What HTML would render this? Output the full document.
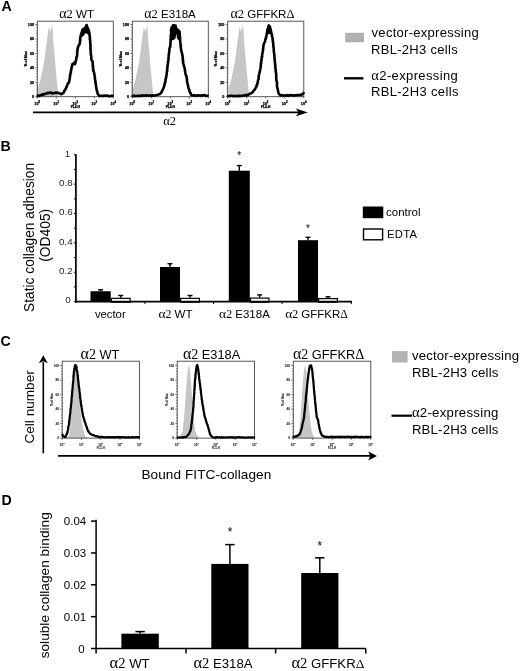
<!DOCTYPE html>
<html><head><meta charset="utf-8"><style>
html,body{margin:0;padding:0;background:#fff;}
svg{display:block;}
</style></head><body>
<div style="will-change:transform;background:#fff;width:520px;height:671px"><svg width="520" height="671" viewBox="0 0 520 671" font-family='"Liberation Sans", sans-serif'>
<rect width="520" height="671" fill="#fff"/>
<text x="1.6" y="11.0" font-size="14.2" text-anchor="start" fill="#000" font-family='"Liberation Sans", sans-serif' font-weight="bold">A</text>
<path d="M38.00,96.70 L38.00,88.00 L40.30,80.00 L42.30,71.00 L44.20,61.00 L45.60,51.00 L46.70,42.00 L47.80,34.00 L48.60,28.00 L49.30,27.50 L50.10,32.00 L51.60,27.50 L52.30,24.80 L52.90,34.30 L53.50,43.80 L54.60,55.70 L55.80,70.00 L57.00,81.90 L57.90,91.40 L58.50,96.70 Z" fill="#c6c6c6" stroke="none"/>
<rect x="37.3" y="21.2" width="76.0" height="75.5" fill="none" stroke="#444" stroke-width="0.9"/>
<path d="M37.60,96.20 L38.56,95.60 L39.09,95.90 L40.00,95.40 L40.78,95.16 L41.73,95.06 L42.19,94.31 L43.17,94.74 L44.00,94.20 L44.78,94.10 L46.10,93.48 L47.00,93.20 L48.20,92.76 L48.79,93.16 L50.00,92.60 L51.02,92.44 L51.95,93.53 L53.00,93.40 L53.96,92.94 L55.00,93.00 L55.77,92.58 L56.80,92.94 L57.58,92.76 L58.60,93.00 L59.38,93.15 L59.98,93.61 L61.00,94.20 L61.83,94.04 L62.46,93.39 L63.40,92.80 L64.02,92.40 L64.24,90.78 L64.88,90.48 L65.20,89.83 L65.70,88.60 L66.14,88.06 L66.46,86.74 L66.94,86.42 L67.18,85.24 L67.50,84.40 L67.92,83.18 L68.53,83.07 L69.10,82.00 L69.28,80.77 L69.50,80.30 L69.55,79.07 L69.87,78.25 L69.90,77.30 L69.99,76.52 L69.95,75.69 L70.39,74.49 L70.48,74.53 L70.42,73.20 L70.92,72.50 L70.85,71.94 L70.85,71.22 L71.10,70.10 L71.48,69.26 L71.42,68.46 L71.64,67.32 L71.56,67.08 L72.10,66.07 L72.24,65.30 L72.30,64.10 L73.06,63.83 L73.80,63.00 L74.37,63.61 L75.00,64.10 L75.37,62.92 L75.26,62.60 L75.59,61.75 L75.73,60.84 L76.06,60.22 L76.20,59.40 L76.33,58.70 L76.38,57.38 L76.69,56.71 L76.93,56.52 L77.09,55.67 L77.10,54.60 L77.34,53.58 L77.09,53.16 L77.15,51.77 L77.34,51.63 L77.60,50.25 L77.44,49.66 L77.73,48.69 L77.71,47.90 L77.90,47.40 L78.21,46.79 L78.55,45.64 L78.90,45.00 L79.80,43.90 L79.83,42.63 L79.82,42.15 L80.22,41.03 L79.99,40.55 L80.34,39.80 L80.06,38.43 L80.46,37.70 L80.53,36.87 L80.54,36.50 L80.60,35.50 L81.11,34.45 L81.21,34.17 L81.50,33.10 L81.87,31.95 L82.13,31.21 L82.46,30.24 L82.70,29.50 L83.90,28.90 L84.26,29.40 L84.80,30.70 L85.22,30.25 L85.46,28.78 L85.75,27.90 L85.80,27.20 L86.16,26.32 L86.60,25.00 L86.78,25.88 L87.40,27.20 L87.53,28.31 L88.27,29.02 L88.40,29.50 L88.50,30.46 L89.11,31.63 L89.15,32.38 L89.40,33.10 L89.41,33.83 L89.64,34.52 L89.50,35.56 L89.79,36.10 L89.80,37.12 L90.05,37.98 L89.74,39.34 L89.96,39.55 L90.25,41.10 L90.20,41.50 L90.11,42.21 L90.44,43.36 L90.26,44.44 L90.46,45.24 L90.63,45.74 L90.56,46.36 L90.35,47.08 L90.41,48.67 L90.63,49.38 L90.57,50.31 L90.58,50.71 L90.76,52.03 L90.93,52.96 L90.80,53.40 L90.91,53.93 L90.76,54.76 L91.22,55.59 L91.29,57.09 L91.28,57.54 L91.26,58.80 L91.40,59.40 L91.68,60.26 L92.10,60.62 L92.60,61.80 L92.70,63.02 L92.73,63.91 L92.95,64.19 L92.67,65.55 L92.78,66.27 L93.21,66.64 L92.99,67.43 L93.15,69.15 L93.10,69.23 L93.44,70.20 L93.40,71.30 L93.88,71.84 L94.21,72.99 L94.21,74.37 L94.60,74.90 L94.69,75.51 L94.87,76.20 L94.68,76.98 L94.91,78.65 L95.08,79.14 L95.00,79.71 L95.51,81.08 L95.23,81.96 L95.55,82.11 L95.60,83.20 L95.75,84.43 L95.94,84.97 L96.02,85.38 L96.02,86.23 L96.17,86.82 L96.38,88.44 L96.60,88.94 L96.62,90.00 L96.80,90.40 L97.00,91.13 L97.51,92.04 L97.54,93.45 L97.90,94.00 L98.52,94.85 L99.10,96.00 L100.04,96.07 L100.68,95.77 L101.61,95.77 L102.70,96.00 L103.31,96.00 L104.36,95.52 L105.23,95.66 L106.06,95.79 L106.70,95.44 L107.50,95.70 L108.16,96.02 L109.05,96.10 L110.27,96.10 L110.82,96.10 L111.76,95.60 L112.60,96.00" fill="none" stroke="#000" stroke-width="2.6" stroke-linejoin="round" stroke-linecap="round"/>
<path d="M80.30,36.00 L80.60,33.00 L82.20,28.00 L84.00,27.50 L86.30,24.50 L88.00,27.00 L89.50,30.50 L90.00,35.00 L88.00,34.50 L86.50,33.50 L85.30,33.30 L84.00,35.50 L82.00,37.00 Z" fill="#000" stroke="none"/>
<line x1="35.3" y1="96.70" x2="37.3" y2="96.70" stroke="#333" stroke-width="0.7"/>
<line x1="36.4" y1="93.82" x2="37.3" y2="93.82" stroke="#333" stroke-width="0.7"/>
<line x1="36.4" y1="90.93" x2="37.3" y2="90.93" stroke="#333" stroke-width="0.7"/>
<line x1="36.4" y1="88.05" x2="37.3" y2="88.05" stroke="#333" stroke-width="0.7"/>
<line x1="36.4" y1="85.16" x2="37.3" y2="85.16" stroke="#333" stroke-width="0.7"/>
<line x1="35.3" y1="82.28" x2="37.3" y2="82.28" stroke="#333" stroke-width="0.7"/>
<line x1="36.4" y1="79.40" x2="37.3" y2="79.40" stroke="#333" stroke-width="0.7"/>
<line x1="36.4" y1="76.51" x2="37.3" y2="76.51" stroke="#333" stroke-width="0.7"/>
<line x1="36.4" y1="73.63" x2="37.3" y2="73.63" stroke="#333" stroke-width="0.7"/>
<line x1="36.4" y1="70.74" x2="37.3" y2="70.74" stroke="#333" stroke-width="0.7"/>
<line x1="35.3" y1="67.86" x2="37.3" y2="67.86" stroke="#333" stroke-width="0.7"/>
<line x1="36.4" y1="64.98" x2="37.3" y2="64.98" stroke="#333" stroke-width="0.7"/>
<line x1="36.4" y1="62.09" x2="37.3" y2="62.09" stroke="#333" stroke-width="0.7"/>
<line x1="36.4" y1="59.21" x2="37.3" y2="59.21" stroke="#333" stroke-width="0.7"/>
<line x1="36.4" y1="56.32" x2="37.3" y2="56.32" stroke="#333" stroke-width="0.7"/>
<line x1="35.3" y1="53.44" x2="37.3" y2="53.44" stroke="#333" stroke-width="0.7"/>
<line x1="36.4" y1="50.56" x2="37.3" y2="50.56" stroke="#333" stroke-width="0.7"/>
<line x1="36.4" y1="47.67" x2="37.3" y2="47.67" stroke="#333" stroke-width="0.7"/>
<line x1="36.4" y1="44.79" x2="37.3" y2="44.79" stroke="#333" stroke-width="0.7"/>
<line x1="36.4" y1="41.90" x2="37.3" y2="41.90" stroke="#333" stroke-width="0.7"/>
<line x1="35.3" y1="39.02" x2="37.3" y2="39.02" stroke="#333" stroke-width="0.7"/>
<line x1="36.4" y1="36.14" x2="37.3" y2="36.14" stroke="#333" stroke-width="0.7"/>
<line x1="36.4" y1="33.25" x2="37.3" y2="33.25" stroke="#333" stroke-width="0.7"/>
<line x1="36.4" y1="30.37" x2="37.3" y2="30.37" stroke="#333" stroke-width="0.7"/>
<line x1="36.4" y1="27.48" x2="37.3" y2="27.48" stroke="#333" stroke-width="0.7"/>
<line x1="35.3" y1="24.60" x2="37.3" y2="24.60" stroke="#333" stroke-width="0.7"/>
<text x="34.0" y="98.10" font-size="3.7" text-anchor="end" fill="#000" font-family='"Liberation Sans", sans-serif' font-weight="bold" stroke="#000" stroke-width="0.25">0</text>
<text x="34.0" y="83.68" font-size="3.7" text-anchor="end" fill="#000" font-family='"Liberation Sans", sans-serif' font-weight="bold" stroke="#000" stroke-width="0.25">20</text>
<text x="34.0" y="69.26" font-size="3.7" text-anchor="end" fill="#000" font-family='"Liberation Sans", sans-serif' font-weight="bold" stroke="#000" stroke-width="0.25">40</text>
<text x="34.0" y="54.84" font-size="3.7" text-anchor="end" fill="#000" font-family='"Liberation Sans", sans-serif' font-weight="bold" stroke="#000" stroke-width="0.25">60</text>
<text x="34.0" y="40.42" font-size="3.7" text-anchor="end" fill="#000" font-family='"Liberation Sans", sans-serif' font-weight="bold" stroke="#000" stroke-width="0.25">80</text>
<text x="34.0" y="26.00" font-size="3.7" text-anchor="end" fill="#000" font-family='"Liberation Sans", sans-serif' font-weight="bold" stroke="#000" stroke-width="0.25">100</text>
<text x="26.699999999999996" y="58.95" font-size="3.50" text-anchor="middle" fill="#000" font-weight="bold" stroke="#000" stroke-width="0.25" font-family='"Liberation Sans", sans-serif' transform="rotate(-90 26.699999999999996 58.95)">% of Max</text>
<line x1="37.30" y1="96.7" x2="37.30" y2="98.5" stroke="#333" stroke-width="0.7"/>
<text x="36.40" y="104.70" font-size="3.7" text-anchor="middle" fill="#000" font-family='"Liberation Sans", sans-serif' font-weight="bold" stroke="#000" stroke-width="0.25">10</text>
<text x="38.40" y="102.80" font-size="2.8" text-anchor="start" fill="#000" font-family='"Liberation Sans", sans-serif' font-weight="bold" stroke="#000" stroke-width="0.25">0</text>
<line x1="56.30" y1="96.7" x2="56.30" y2="98.5" stroke="#333" stroke-width="0.7"/>
<text x="55.40" y="104.70" font-size="3.7" text-anchor="middle" fill="#000" font-family='"Liberation Sans", sans-serif' font-weight="bold" stroke="#000" stroke-width="0.25">10</text>
<text x="57.40" y="102.80" font-size="2.8" text-anchor="start" fill="#000" font-family='"Liberation Sans", sans-serif' font-weight="bold" stroke="#000" stroke-width="0.25">1</text>
<line x1="75.30" y1="96.7" x2="75.30" y2="98.5" stroke="#333" stroke-width="0.7"/>
<text x="74.40" y="104.70" font-size="3.7" text-anchor="middle" fill="#000" font-family='"Liberation Sans", sans-serif' font-weight="bold" stroke="#000" stroke-width="0.25">10</text>
<text x="76.40" y="102.80" font-size="2.8" text-anchor="start" fill="#000" font-family='"Liberation Sans", sans-serif' font-weight="bold" stroke="#000" stroke-width="0.25">2</text>
<line x1="94.30" y1="96.7" x2="94.30" y2="98.5" stroke="#333" stroke-width="0.7"/>
<text x="93.40" y="104.70" font-size="3.7" text-anchor="middle" fill="#000" font-family='"Liberation Sans", sans-serif' font-weight="bold" stroke="#000" stroke-width="0.25">10</text>
<text x="95.40" y="102.80" font-size="2.8" text-anchor="start" fill="#000" font-family='"Liberation Sans", sans-serif' font-weight="bold" stroke="#000" stroke-width="0.25">3</text>
<line x1="113.30" y1="96.7" x2="113.30" y2="98.5" stroke="#333" stroke-width="0.7"/>
<text x="112.40" y="104.70" font-size="3.7" text-anchor="middle" fill="#000" font-family='"Liberation Sans", sans-serif' font-weight="bold" stroke="#000" stroke-width="0.25">10</text>
<text x="114.40" y="102.80" font-size="2.8" text-anchor="start" fill="#000" font-family='"Liberation Sans", sans-serif' font-weight="bold" stroke="#000" stroke-width="0.25">4</text>
<text x="75.30" y="108.00" font-size="3.3" text-anchor="middle" fill="#000" font-family='"Liberation Sans", sans-serif' font-weight="bold" stroke="#000" stroke-width="0.25">FL4-H</text>
<path d="M133.00,96.70 L133.00,88.00 L135.30,80.00 L137.30,71.00 L139.20,61.00 L140.60,51.00 L141.70,42.00 L142.80,34.00 L143.60,28.00 L144.30,27.50 L145.10,32.00 L146.60,27.50 L147.30,24.80 L147.90,34.30 L148.50,43.80 L149.60,55.70 L150.80,70.00 L152.00,81.90 L152.90,91.40 L153.50,96.70 Z" fill="#c6c6c6" stroke="none"/>
<rect x="132.3" y="21.2" width="76.0" height="75.5" fill="none" stroke="#444" stroke-width="0.9"/>
<path d="M132.60,96.00 L133.62,96.10 L134.06,95.56 L135.17,96.10 L135.80,96.06 L136.76,95.98 L137.38,95.94 L138.31,95.78 L139.40,96.02 L140.00,95.80 L140.85,96.10 L141.56,95.68 L142.29,95.28 L143.25,95.64 L144.34,95.53 L145.03,95.62 L145.62,95.33 L146.50,95.38 L147.72,95.51 L148.19,95.62 L149.30,95.79 L150.00,95.40 L150.98,95.61 L151.73,95.64 L152.62,95.27 L153.05,95.82 L154.10,95.63 L154.80,95.40 L155.71,95.17 L156.79,94.99 L157.65,94.80 L158.40,94.60 L159.34,94.07 L159.92,94.16 L160.70,93.40 L161.34,92.71 L161.59,92.10 L161.97,90.90 L162.50,90.40 L162.65,89.78 L163.00,89.17 L163.31,88.37 L163.79,87.61 L164.01,86.40 L164.30,85.60 L164.54,84.94 L164.57,83.83 L165.10,83.21 L164.91,82.51 L165.40,81.89 L165.50,80.80 L165.49,80.38 L165.57,79.44 L165.80,78.57 L166.20,77.40 L166.18,76.50 L166.19,76.39 L166.60,75.02 L166.66,74.42 L166.70,73.70 L166.74,72.44 L166.98,71.72 L167.20,70.80 L167.20,69.91 L167.09,69.07 L167.15,68.94 L167.49,67.54 L167.29,66.88 L167.44,66.58 L167.70,65.30 L167.73,64.00 L168.01,63.63 L167.93,62.29 L168.08,61.33 L168.31,61.10 L168.42,60.34 L168.49,59.41 L168.50,58.20 L168.47,57.38 L168.60,56.74 L168.74,55.44 L168.69,55.34 L168.90,54.28 L168.87,53.41 L169.01,53.01 L169.18,51.90 L169.30,51.00 L169.47,49.71 L169.39,48.96 L169.58,48.01 L169.93,47.21 L170.23,46.72 L170.38,46.25 L170.30,45.00 L170.35,43.87 L170.49,43.00 L170.66,42.45 L170.49,41.64 L170.69,40.49 L170.54,39.23 L170.65,38.71 L170.90,37.90 L170.81,37.26 L170.82,35.86 L170.86,35.14 L171.00,34.56 L171.11,33.53 L171.26,32.60 L171.21,32.44 L171.15,31.12 L170.97,30.41 L171.20,29.50 L171.51,28.66 L171.62,27.68 L172.10,27.20 L172.64,26.57 L173.30,25.40 L174.50,25.40 L175.24,26.02 L175.60,26.60 L175.91,27.67 L176.34,28.97 L176.80,29.50 L177.78,29.67 L178.60,30.70 L179.60,31.90 L179.56,32.38 L179.78,33.89 L179.73,33.98 L179.79,35.18 L179.89,35.84 L179.80,36.56 L180.15,37.67 L180.11,38.24 L180.08,39.18 L180.10,40.30 L180.17,41.09 L180.23,42.30 L180.19,42.62 L180.61,43.47 L180.74,44.86 L180.41,45.80 L180.84,46.66 L180.80,47.40 L180.93,48.40 L181.05,48.87 L181.10,50.07 L181.32,50.62 L181.60,51.81 L181.60,52.20 L182.02,53.39 L182.01,53.62 L182.40,54.60 L182.37,55.42 L182.64,56.19 L182.68,57.47 L182.54,58.21 L183.02,58.62 L182.84,59.26 L182.77,60.02 L183.26,61.60 L182.95,62.20 L183.20,62.90 L183.28,63.62 L183.68,64.85 L183.81,65.54 L184.00,66.50 L184.29,66.95 L184.65,68.50 L184.80,68.90 L184.92,69.34 L184.92,70.69 L185.13,71.66 L185.22,72.28 L185.51,73.35 L185.50,73.70 L185.64,74.57 L185.89,75.25 L186.40,76.10 L186.69,77.03 L186.63,77.50 L186.70,78.61 L187.05,79.66 L186.96,80.50 L187.01,81.57 L187.20,82.00 L187.44,83.08 L187.70,83.95 L187.77,84.32 L187.96,85.34 L188.12,86.72 L188.21,86.70 L188.40,88.00 L188.84,88.99 L189.08,89.74 L189.40,89.97 L189.51,91.41 L189.91,92.36 L190.00,92.80 L190.74,93.24 L191.06,94.64 L191.80,95.20 L192.71,95.54 L193.69,95.17 L194.48,95.25 L195.30,95.70 L195.99,95.61 L196.89,95.69 L197.91,95.33 L198.28,95.18 L199.45,95.52 L200.21,95.64 L200.98,95.45 L201.60,95.28 L202.50,95.40 L203.14,95.45 L204.31,95.12 L205.16,95.26 L205.86,95.86 L206.88,95.81 L207.60,95.70" fill="none" stroke="#000" stroke-width="2.6" stroke-linejoin="round" stroke-linecap="round"/>
<path d="M170.30,40.00 L170.60,28.00 L172.20,24.40 L176.60,24.40 L177.50,29.30 L180.50,31.00 L180.70,40.00 L178.50,40.00 L177.00,38.50 L176.30,33.50 L175.50,38.50 L173.50,40.20 Z" fill="#000" stroke="none"/>
<line x1="130.3" y1="96.70" x2="132.3" y2="96.70" stroke="#333" stroke-width="0.7"/>
<line x1="131.4" y1="93.82" x2="132.3" y2="93.82" stroke="#333" stroke-width="0.7"/>
<line x1="131.4" y1="90.93" x2="132.3" y2="90.93" stroke="#333" stroke-width="0.7"/>
<line x1="131.4" y1="88.05" x2="132.3" y2="88.05" stroke="#333" stroke-width="0.7"/>
<line x1="131.4" y1="85.16" x2="132.3" y2="85.16" stroke="#333" stroke-width="0.7"/>
<line x1="130.3" y1="82.28" x2="132.3" y2="82.28" stroke="#333" stroke-width="0.7"/>
<line x1="131.4" y1="79.40" x2="132.3" y2="79.40" stroke="#333" stroke-width="0.7"/>
<line x1="131.4" y1="76.51" x2="132.3" y2="76.51" stroke="#333" stroke-width="0.7"/>
<line x1="131.4" y1="73.63" x2="132.3" y2="73.63" stroke="#333" stroke-width="0.7"/>
<line x1="131.4" y1="70.74" x2="132.3" y2="70.74" stroke="#333" stroke-width="0.7"/>
<line x1="130.3" y1="67.86" x2="132.3" y2="67.86" stroke="#333" stroke-width="0.7"/>
<line x1="131.4" y1="64.98" x2="132.3" y2="64.98" stroke="#333" stroke-width="0.7"/>
<line x1="131.4" y1="62.09" x2="132.3" y2="62.09" stroke="#333" stroke-width="0.7"/>
<line x1="131.4" y1="59.21" x2="132.3" y2="59.21" stroke="#333" stroke-width="0.7"/>
<line x1="131.4" y1="56.32" x2="132.3" y2="56.32" stroke="#333" stroke-width="0.7"/>
<line x1="130.3" y1="53.44" x2="132.3" y2="53.44" stroke="#333" stroke-width="0.7"/>
<line x1="131.4" y1="50.56" x2="132.3" y2="50.56" stroke="#333" stroke-width="0.7"/>
<line x1="131.4" y1="47.67" x2="132.3" y2="47.67" stroke="#333" stroke-width="0.7"/>
<line x1="131.4" y1="44.79" x2="132.3" y2="44.79" stroke="#333" stroke-width="0.7"/>
<line x1="131.4" y1="41.90" x2="132.3" y2="41.90" stroke="#333" stroke-width="0.7"/>
<line x1="130.3" y1="39.02" x2="132.3" y2="39.02" stroke="#333" stroke-width="0.7"/>
<line x1="131.4" y1="36.14" x2="132.3" y2="36.14" stroke="#333" stroke-width="0.7"/>
<line x1="131.4" y1="33.25" x2="132.3" y2="33.25" stroke="#333" stroke-width="0.7"/>
<line x1="131.4" y1="30.37" x2="132.3" y2="30.37" stroke="#333" stroke-width="0.7"/>
<line x1="131.4" y1="27.48" x2="132.3" y2="27.48" stroke="#333" stroke-width="0.7"/>
<line x1="130.3" y1="24.60" x2="132.3" y2="24.60" stroke="#333" stroke-width="0.7"/>
<text x="129.0" y="98.10" font-size="3.7" text-anchor="end" fill="#000" font-family='"Liberation Sans", sans-serif' font-weight="bold" stroke="#000" stroke-width="0.25">0</text>
<text x="129.0" y="83.68" font-size="3.7" text-anchor="end" fill="#000" font-family='"Liberation Sans", sans-serif' font-weight="bold" stroke="#000" stroke-width="0.25">20</text>
<text x="129.0" y="69.26" font-size="3.7" text-anchor="end" fill="#000" font-family='"Liberation Sans", sans-serif' font-weight="bold" stroke="#000" stroke-width="0.25">40</text>
<text x="129.0" y="54.84" font-size="3.7" text-anchor="end" fill="#000" font-family='"Liberation Sans", sans-serif' font-weight="bold" stroke="#000" stroke-width="0.25">60</text>
<text x="129.0" y="40.42" font-size="3.7" text-anchor="end" fill="#000" font-family='"Liberation Sans", sans-serif' font-weight="bold" stroke="#000" stroke-width="0.25">80</text>
<text x="129.0" y="26.00" font-size="3.7" text-anchor="end" fill="#000" font-family='"Liberation Sans", sans-serif' font-weight="bold" stroke="#000" stroke-width="0.25">100</text>
<text x="121.70000000000002" y="58.95" font-size="3.50" text-anchor="middle" fill="#000" font-weight="bold" stroke="#000" stroke-width="0.25" font-family='"Liberation Sans", sans-serif' transform="rotate(-90 121.70000000000002 58.95)">% of Max</text>
<line x1="132.30" y1="96.7" x2="132.30" y2="98.5" stroke="#333" stroke-width="0.7"/>
<text x="131.40" y="104.70" font-size="3.7" text-anchor="middle" fill="#000" font-family='"Liberation Sans", sans-serif' font-weight="bold" stroke="#000" stroke-width="0.25">10</text>
<text x="133.40" y="102.80" font-size="2.8" text-anchor="start" fill="#000" font-family='"Liberation Sans", sans-serif' font-weight="bold" stroke="#000" stroke-width="0.25">0</text>
<line x1="151.30" y1="96.7" x2="151.30" y2="98.5" stroke="#333" stroke-width="0.7"/>
<text x="150.40" y="104.70" font-size="3.7" text-anchor="middle" fill="#000" font-family='"Liberation Sans", sans-serif' font-weight="bold" stroke="#000" stroke-width="0.25">10</text>
<text x="152.40" y="102.80" font-size="2.8" text-anchor="start" fill="#000" font-family='"Liberation Sans", sans-serif' font-weight="bold" stroke="#000" stroke-width="0.25">1</text>
<line x1="170.30" y1="96.7" x2="170.30" y2="98.5" stroke="#333" stroke-width="0.7"/>
<text x="169.40" y="104.70" font-size="3.7" text-anchor="middle" fill="#000" font-family='"Liberation Sans", sans-serif' font-weight="bold" stroke="#000" stroke-width="0.25">10</text>
<text x="171.40" y="102.80" font-size="2.8" text-anchor="start" fill="#000" font-family='"Liberation Sans", sans-serif' font-weight="bold" stroke="#000" stroke-width="0.25">2</text>
<line x1="189.30" y1="96.7" x2="189.30" y2="98.5" stroke="#333" stroke-width="0.7"/>
<text x="188.40" y="104.70" font-size="3.7" text-anchor="middle" fill="#000" font-family='"Liberation Sans", sans-serif' font-weight="bold" stroke="#000" stroke-width="0.25">10</text>
<text x="190.40" y="102.80" font-size="2.8" text-anchor="start" fill="#000" font-family='"Liberation Sans", sans-serif' font-weight="bold" stroke="#000" stroke-width="0.25">3</text>
<line x1="208.30" y1="96.7" x2="208.30" y2="98.5" stroke="#333" stroke-width="0.7"/>
<text x="207.40" y="104.70" font-size="3.7" text-anchor="middle" fill="#000" font-family='"Liberation Sans", sans-serif' font-weight="bold" stroke="#000" stroke-width="0.25">10</text>
<text x="209.40" y="102.80" font-size="2.8" text-anchor="start" fill="#000" font-family='"Liberation Sans", sans-serif' font-weight="bold" stroke="#000" stroke-width="0.25">4</text>
<text x="170.30" y="108.00" font-size="3.3" text-anchor="middle" fill="#000" font-family='"Liberation Sans", sans-serif' font-weight="bold" stroke="#000" stroke-width="0.25">FL4-H</text>
<path d="M228.80,96.70 L228.80,88.00 L231.10,80.00 L233.10,71.00 L235.00,61.00 L236.40,51.00 L237.50,42.00 L238.60,34.00 L239.40,28.00 L240.10,27.50 L240.90,32.00 L242.40,27.50 L243.10,24.80 L243.70,34.30 L244.30,43.80 L245.40,55.70 L246.60,70.00 L247.80,81.90 L248.70,91.40 L249.30,96.70 Z" fill="#c6c6c6" stroke="none"/>
<rect x="227.7" y="21.2" width="76.10000000000002" height="75.5" fill="none" stroke="#444" stroke-width="0.9"/>
<path d="M228.00,96.20 L228.82,95.94 L229.65,96.03 L230.20,96.10 L231.35,95.66 L231.88,95.85 L232.79,96.10 L233.59,96.10 L234.24,96.10 L235.37,96.08 L236.11,95.95 L236.60,96.06 L237.64,96.10 L238.19,95.67 L239.19,96.10 L240.00,95.80 L241.00,95.93 L241.86,95.86 L242.64,95.51 L243.53,95.48 L243.99,95.81 L245.00,95.40 L245.77,94.87 L246.77,95.42 L247.61,94.91 L248.60,94.60 L249.30,94.16 L250.14,93.57 L251.03,93.33 L251.60,92.80 L252.37,92.36 L252.97,91.92 L253.17,91.15 L253.90,90.40 L254.59,90.00 L254.89,89.32 L255.21,88.43 L255.85,87.82 L256.30,86.80 L256.37,85.81 L257.05,85.52 L257.24,84.03 L257.21,83.52 L257.75,82.61 L257.90,82.00 L257.83,81.51 L257.98,80.44 L258.24,79.71 L258.68,79.02 L258.82,77.85 L258.55,76.85 L258.67,76.28 L258.98,75.09 L259.01,74.63 L259.30,73.70 L259.62,72.49 L259.82,71.93 L259.71,71.66 L259.93,70.46 L260.12,69.83 L260.29,68.95 L260.39,68.50 L260.64,67.24 L260.70,66.50 L260.71,65.43 L260.91,65.27 L260.78,64.05 L261.14,63.10 L261.25,61.92 L261.10,61.64 L261.38,60.80 L261.43,60.02 L261.71,59.22 L261.70,58.20 L261.64,56.97 L262.18,56.76 L262.08,55.58 L262.15,55.08 L262.28,54.08 L262.54,53.28 L262.58,52.42 L262.55,52.05 L262.90,51.00 L263.12,50.17 L263.00,49.05 L263.12,48.61 L263.32,47.17 L263.28,46.74 L263.50,45.51 L263.66,45.09 L263.80,43.90 L264.05,43.42 L264.67,42.15 L265.00,41.50 L265.19,40.99 L265.26,39.54 L265.50,38.96 L266.01,38.35 L265.97,36.93 L266.35,36.63 L266.50,35.50 L266.60,34.92 L266.75,33.45 L266.91,33.19 L267.15,31.93 L267.32,31.14 L267.37,30.74 L267.70,29.50 L268.14,28.23 L268.40,28.20 L268.62,26.98 L268.53,26.60 L268.90,25.40 L269.65,26.52 L270.10,27.20 L270.29,28.13 L270.40,28.58 L270.46,29.30 L270.74,30.41 L270.81,31.40 L271.20,31.90 L271.46,33.12 L271.72,34.00 L271.75,34.83 L272.00,34.89 L271.97,35.89 L272.24,37.19 L272.40,37.90 L272.71,38.69 L272.55,39.73 L272.89,40.27 L272.96,41.33 L272.81,42.08 L273.20,43.11 L273.29,43.65 L273.41,45.19 L273.16,45.96 L273.65,46.65 L273.60,47.40 L273.57,47.83 L273.77,48.85 L273.82,49.82 L273.68,50.97 L273.82,51.15 L273.87,52.05 L274.30,53.64 L274.22,53.67 L274.21,54.71 L274.44,55.57 L274.38,56.62 L274.45,57.09 L274.60,58.20 L274.70,58.73 L274.69,60.12 L274.67,60.41 L274.94,61.54 L274.91,62.77 L275.09,63.65 L275.05,64.18 L275.27,65.11 L275.34,65.90 L275.21,66.80 L275.40,67.70 L275.56,68.53 L275.52,68.91 L275.80,70.03 L275.64,71.29 L275.91,72.06 L275.83,72.29 L276.07,72.96 L276.17,74.25 L276.15,75.16 L276.18,75.91 L276.26,76.14 L276.30,77.30 L276.22,77.72 L276.26,79.27 L276.37,79.52 L276.48,81.10 L276.86,81.19 L276.95,82.14 L277.02,83.50 L276.99,84.62 L276.83,85.34 L277.12,86.18 L277.20,86.80 L277.19,87.85 L277.74,88.74 L277.64,88.98 L278.03,90.29 L277.91,90.85 L278.28,91.72 L278.40,92.80 L278.95,93.89 L279.55,94.41 L280.20,95.40 L281.00,95.27 L281.87,95.02 L282.66,95.83 L283.38,95.62 L284.48,95.57 L285.21,95.56 L286.10,95.39 L286.71,95.76 L287.81,95.04 L288.54,95.77 L289.47,95.35 L290.10,95.12 L291.07,95.13 L291.75,95.23 L292.70,95.40 L293.74,95.55 L294.47,95.18 L295.38,95.26 L295.96,95.40 L296.69,95.05 L297.69,95.26 L298.52,94.97 L299.54,95.08 L300.48,94.90 L301.10,95.20 L301.74,94.63 L302.45,94.07 L302.93,93.84 L303.50,93.00" fill="none" stroke="#000" stroke-width="2.6" stroke-linejoin="round" stroke-linecap="round"/>
<path d="M266.00,31.00 L267.30,26.50 L268.30,24.50 L270.00,26.00 L271.50,29.00 L272.20,32.00 L270.50,34.00 L268.50,34.30 L267.00,33.00 Z" fill="#000" stroke="none"/>
<line x1="225.7" y1="96.70" x2="227.7" y2="96.70" stroke="#333" stroke-width="0.7"/>
<line x1="226.79999999999998" y1="93.82" x2="227.7" y2="93.82" stroke="#333" stroke-width="0.7"/>
<line x1="226.79999999999998" y1="90.93" x2="227.7" y2="90.93" stroke="#333" stroke-width="0.7"/>
<line x1="226.79999999999998" y1="88.05" x2="227.7" y2="88.05" stroke="#333" stroke-width="0.7"/>
<line x1="226.79999999999998" y1="85.16" x2="227.7" y2="85.16" stroke="#333" stroke-width="0.7"/>
<line x1="225.7" y1="82.28" x2="227.7" y2="82.28" stroke="#333" stroke-width="0.7"/>
<line x1="226.79999999999998" y1="79.40" x2="227.7" y2="79.40" stroke="#333" stroke-width="0.7"/>
<line x1="226.79999999999998" y1="76.51" x2="227.7" y2="76.51" stroke="#333" stroke-width="0.7"/>
<line x1="226.79999999999998" y1="73.63" x2="227.7" y2="73.63" stroke="#333" stroke-width="0.7"/>
<line x1="226.79999999999998" y1="70.74" x2="227.7" y2="70.74" stroke="#333" stroke-width="0.7"/>
<line x1="225.7" y1="67.86" x2="227.7" y2="67.86" stroke="#333" stroke-width="0.7"/>
<line x1="226.79999999999998" y1="64.98" x2="227.7" y2="64.98" stroke="#333" stroke-width="0.7"/>
<line x1="226.79999999999998" y1="62.09" x2="227.7" y2="62.09" stroke="#333" stroke-width="0.7"/>
<line x1="226.79999999999998" y1="59.21" x2="227.7" y2="59.21" stroke="#333" stroke-width="0.7"/>
<line x1="226.79999999999998" y1="56.32" x2="227.7" y2="56.32" stroke="#333" stroke-width="0.7"/>
<line x1="225.7" y1="53.44" x2="227.7" y2="53.44" stroke="#333" stroke-width="0.7"/>
<line x1="226.79999999999998" y1="50.56" x2="227.7" y2="50.56" stroke="#333" stroke-width="0.7"/>
<line x1="226.79999999999998" y1="47.67" x2="227.7" y2="47.67" stroke="#333" stroke-width="0.7"/>
<line x1="226.79999999999998" y1="44.79" x2="227.7" y2="44.79" stroke="#333" stroke-width="0.7"/>
<line x1="226.79999999999998" y1="41.90" x2="227.7" y2="41.90" stroke="#333" stroke-width="0.7"/>
<line x1="225.7" y1="39.02" x2="227.7" y2="39.02" stroke="#333" stroke-width="0.7"/>
<line x1="226.79999999999998" y1="36.14" x2="227.7" y2="36.14" stroke="#333" stroke-width="0.7"/>
<line x1="226.79999999999998" y1="33.25" x2="227.7" y2="33.25" stroke="#333" stroke-width="0.7"/>
<line x1="226.79999999999998" y1="30.37" x2="227.7" y2="30.37" stroke="#333" stroke-width="0.7"/>
<line x1="226.79999999999998" y1="27.48" x2="227.7" y2="27.48" stroke="#333" stroke-width="0.7"/>
<line x1="225.7" y1="24.60" x2="227.7" y2="24.60" stroke="#333" stroke-width="0.7"/>
<text x="224.39999999999998" y="98.10" font-size="3.7" text-anchor="end" fill="#000" font-family='"Liberation Sans", sans-serif' font-weight="bold" stroke="#000" stroke-width="0.25">0</text>
<text x="224.39999999999998" y="83.68" font-size="3.7" text-anchor="end" fill="#000" font-family='"Liberation Sans", sans-serif' font-weight="bold" stroke="#000" stroke-width="0.25">20</text>
<text x="224.39999999999998" y="69.26" font-size="3.7" text-anchor="end" fill="#000" font-family='"Liberation Sans", sans-serif' font-weight="bold" stroke="#000" stroke-width="0.25">40</text>
<text x="224.39999999999998" y="54.84" font-size="3.7" text-anchor="end" fill="#000" font-family='"Liberation Sans", sans-serif' font-weight="bold" stroke="#000" stroke-width="0.25">60</text>
<text x="224.39999999999998" y="40.42" font-size="3.7" text-anchor="end" fill="#000" font-family='"Liberation Sans", sans-serif' font-weight="bold" stroke="#000" stroke-width="0.25">80</text>
<text x="224.39999999999998" y="26.00" font-size="3.7" text-anchor="end" fill="#000" font-family='"Liberation Sans", sans-serif' font-weight="bold" stroke="#000" stroke-width="0.25">100</text>
<text x="217.1" y="58.95" font-size="3.50" text-anchor="middle" fill="#000" font-weight="bold" stroke="#000" stroke-width="0.25" font-family='"Liberation Sans", sans-serif' transform="rotate(-90 217.1 58.95)">% of Max</text>
<line x1="227.70" y1="96.7" x2="227.70" y2="98.5" stroke="#333" stroke-width="0.7"/>
<text x="226.80" y="104.70" font-size="3.7" text-anchor="middle" fill="#000" font-family='"Liberation Sans", sans-serif' font-weight="bold" stroke="#000" stroke-width="0.25">10</text>
<text x="228.80" y="102.80" font-size="2.8" text-anchor="start" fill="#000" font-family='"Liberation Sans", sans-serif' font-weight="bold" stroke="#000" stroke-width="0.25">0</text>
<line x1="246.72" y1="96.7" x2="246.72" y2="98.5" stroke="#333" stroke-width="0.7"/>
<text x="245.82" y="104.70" font-size="3.7" text-anchor="middle" fill="#000" font-family='"Liberation Sans", sans-serif' font-weight="bold" stroke="#000" stroke-width="0.25">10</text>
<text x="247.82" y="102.80" font-size="2.8" text-anchor="start" fill="#000" font-family='"Liberation Sans", sans-serif' font-weight="bold" stroke="#000" stroke-width="0.25">1</text>
<line x1="265.75" y1="96.7" x2="265.75" y2="98.5" stroke="#333" stroke-width="0.7"/>
<text x="264.85" y="104.70" font-size="3.7" text-anchor="middle" fill="#000" font-family='"Liberation Sans", sans-serif' font-weight="bold" stroke="#000" stroke-width="0.25">10</text>
<text x="266.85" y="102.80" font-size="2.8" text-anchor="start" fill="#000" font-family='"Liberation Sans", sans-serif' font-weight="bold" stroke="#000" stroke-width="0.25">2</text>
<line x1="284.77" y1="96.7" x2="284.77" y2="98.5" stroke="#333" stroke-width="0.7"/>
<text x="283.88" y="104.70" font-size="3.7" text-anchor="middle" fill="#000" font-family='"Liberation Sans", sans-serif' font-weight="bold" stroke="#000" stroke-width="0.25">10</text>
<text x="285.88" y="102.80" font-size="2.8" text-anchor="start" fill="#000" font-family='"Liberation Sans", sans-serif' font-weight="bold" stroke="#000" stroke-width="0.25">3</text>
<line x1="303.80" y1="96.7" x2="303.80" y2="98.5" stroke="#333" stroke-width="0.7"/>
<text x="302.90" y="104.70" font-size="3.7" text-anchor="middle" fill="#000" font-family='"Liberation Sans", sans-serif' font-weight="bold" stroke="#000" stroke-width="0.25">10</text>
<text x="304.90" y="102.80" font-size="2.8" text-anchor="start" fill="#000" font-family='"Liberation Sans", sans-serif' font-weight="bold" stroke="#000" stroke-width="0.25">4</text>
<text x="265.75" y="108.00" font-size="3.3" text-anchor="middle" fill="#000" font-family='"Liberation Sans", sans-serif' font-weight="bold" stroke="#000" stroke-width="0.25">FL4-H</text>
<text x="59.2" y="18.1" fill="#000" font-family='"Liberation Sans", sans-serif' ><tspan font-family='"Liberation Serif", serif' font-size="14">&#945;</tspan><tspan font-family='"Liberation Serif", serif' font-size="12.5">2</tspan><tspan font-size="11.6"> WT</tspan></text>
<text x="144.2" y="18.1" fill="#000" font-family='"Liberation Sans", sans-serif' ><tspan font-family='"Liberation Serif", serif' font-size="14">&#945;</tspan><tspan font-family='"Liberation Serif", serif' font-size="12.5">2</tspan><tspan font-size="11.6"> E318A</tspan></text>
<text x="230.4" y="18.1" fill="#000" font-family='"Liberation Sans", sans-serif' ><tspan font-family='"Liberation Serif", serif' font-size="14">&#945;</tspan><tspan font-family='"Liberation Serif", serif' font-size="12.5">2</tspan><tspan font-size="11.6"> GFFKR</tspan><tspan font-family='"Liberation Serif", serif' font-size="12.5">&#916;</tspan></text>
<line x1="33" y1="112.4" x2="300" y2="112.4" stroke="#000" stroke-width="1.8"/>
<path d="M307.8,112.4 L295.8,108.6 L298.8,112.4 L295.8,116.2 Z" fill="#000"/>
<text x="169.6" y="124.8" font-size="12.5" text-anchor="middle" fill="#000" font-family='"Liberation Serif", serif' >&#945;2</text>
<rect x="345.2" y="32.8" width="18.8" height="9.5" fill="#b0b0b0"/>
<text x="371.6" y="37.0" font-size="13" text-anchor="start" fill="#000" font-family='"Liberation Sans", sans-serif' letter-spacing="0.28">vector-expressing</text>
<text x="371.0" y="53.9" font-size="13" text-anchor="start" fill="#000" font-family='"Liberation Sans", sans-serif' letter-spacing="0.3">RBL-2H3 cells</text>
<line x1="344" y1="78.3" x2="363.4" y2="78.3" stroke="#000" stroke-width="2.4"/>
<text x="371.3" y="80.3" fill="#000" font-family='"Liberation Sans", sans-serif' letter-spacing="0.37"><tspan font-family='"Liberation Serif", serif' font-size="14.5">&#945;</tspan><tspan font-family='"Liberation Sans", sans-serif' font-size="13">2</tspan><tspan font-size="13">-expressing</tspan></text>
<text x="371.0" y="96.2" font-size="13" text-anchor="start" fill="#000" font-family='"Liberation Sans", sans-serif' letter-spacing="0.36">RBL-2H3 cells</text>
<text x="0.4" y="151.4" font-size="14.2" text-anchor="start" fill="#000" font-family='"Liberation Sans", sans-serif' font-weight="bold">B</text>
<line x1="100.625" y1="291.25" x2="100.625" y2="289.8" stroke="#000" stroke-width="1.4"/>
<line x1="98.125" y1="289.8" x2="103.125" y2="289.8" stroke="#000" stroke-width="1.4"/>
<rect x="90.5" y="291.25" width="20.25" height="10.350000000000023" fill="#000"/>
<line x1="120.75" y1="297.75" x2="120.75" y2="295.5" stroke="#000" stroke-width="1.4"/>
<line x1="118.25" y1="295.5" x2="123.25" y2="295.5" stroke="#000" stroke-width="1.4"/>
<rect x="111.35" y="298.35" width="18.8" height="3.8500000000000227" fill="#fff" stroke="#000" stroke-width="1.2"/>
<line x1="170.0" y1="267" x2="170.0" y2="263.75" stroke="#000" stroke-width="1.4"/>
<line x1="167.5" y1="263.75" x2="172.5" y2="263.75" stroke="#000" stroke-width="1.4"/>
<rect x="160" y="267" width="20" height="34.60000000000002" fill="#000"/>
<line x1="190.0" y1="297.75" x2="190.0" y2="295.5" stroke="#000" stroke-width="1.4"/>
<line x1="187.5" y1="295.5" x2="192.5" y2="295.5" stroke="#000" stroke-width="1.4"/>
<rect x="180.6" y="298.35" width="18.8" height="3.8500000000000227" fill="#fff" stroke="#000" stroke-width="1.2"/>
<line x1="239.3" y1="170.7" x2="239.3" y2="165.6" stroke="#000" stroke-width="1.4"/>
<line x1="236.8" y1="165.6" x2="241.8" y2="165.6" stroke="#000" stroke-width="1.4"/>
<rect x="228.8" y="170.7" width="21.0" height="130.90000000000003" fill="#000"/>
<line x1="259.65" y1="297.5" x2="259.65" y2="294.9" stroke="#000" stroke-width="1.4"/>
<line x1="257.15" y1="294.9" x2="262.15" y2="294.9" stroke="#000" stroke-width="1.4"/>
<rect x="250.4" y="298.1" width="18.49999999999999" height="4.100000000000023" fill="#fff" stroke="#000" stroke-width="1.2"/>
<line x1="308.0" y1="240.2" x2="308.0" y2="237.3" stroke="#000" stroke-width="1.4"/>
<line x1="305.5" y1="237.3" x2="310.5" y2="237.3" stroke="#000" stroke-width="1.4"/>
<rect x="298" y="240.2" width="20" height="61.400000000000034" fill="#000"/>
<line x1="328.0" y1="298" x2="328.0" y2="296.8" stroke="#000" stroke-width="1.4"/>
<line x1="325.5" y1="296.8" x2="330.5" y2="296.8" stroke="#000" stroke-width="1.4"/>
<rect x="318.6" y="298.6" width="18.8" height="3.6000000000000227" fill="#fff" stroke="#000" stroke-width="1.2"/>
<line x1="75.9" y1="154.3" x2="75.9" y2="302.8" stroke="#000" stroke-width="1.7"/>
<line x1="75.10000000000001" y1="301.6" x2="352" y2="301.6" stroke="#000" stroke-width="1.8"/>
<line x1="73.9" y1="301.60" x2="75.9" y2="301.60" stroke="#000" stroke-width="1"/>
<line x1="73.9" y1="286.92" x2="75.9" y2="286.92" stroke="#000" stroke-width="1"/>
<line x1="73.9" y1="272.24" x2="75.9" y2="272.24" stroke="#000" stroke-width="1"/>
<line x1="73.9" y1="257.56" x2="75.9" y2="257.56" stroke="#000" stroke-width="1"/>
<line x1="73.9" y1="242.88" x2="75.9" y2="242.88" stroke="#000" stroke-width="1"/>
<line x1="73.9" y1="228.20" x2="75.9" y2="228.20" stroke="#000" stroke-width="1"/>
<line x1="73.9" y1="213.52" x2="75.9" y2="213.52" stroke="#000" stroke-width="1"/>
<line x1="73.9" y1="198.84" x2="75.9" y2="198.84" stroke="#000" stroke-width="1"/>
<line x1="73.9" y1="184.16" x2="75.9" y2="184.16" stroke="#000" stroke-width="1"/>
<line x1="73.9" y1="169.48" x2="75.9" y2="169.48" stroke="#000" stroke-width="1"/>
<line x1="73.9" y1="154.80" x2="75.9" y2="154.80" stroke="#000" stroke-width="1"/>
<line x1="145" y1="301.6" x2="145" y2="304.1" stroke="#000" stroke-width="1"/>
<line x1="213.5" y1="301.6" x2="213.5" y2="304.1" stroke="#000" stroke-width="1"/>
<line x1="282" y1="301.6" x2="282" y2="304.1" stroke="#000" stroke-width="1"/>
<line x1="351.3" y1="301.6" x2="351.3" y2="304.1" stroke="#000" stroke-width="1"/>
<text x="70.3" y="156.60" font-size="9.8" text-anchor="end" fill="#222" font-family='"Liberation Sans", sans-serif' >1</text>
<text x="72.6" y="185.96" font-size="9.8" text-anchor="end" fill="#222" font-family='"Liberation Sans", sans-serif' >0.8</text>
<text x="72.6" y="215.32" font-size="9.8" text-anchor="end" fill="#222" font-family='"Liberation Sans", sans-serif' >0.6</text>
<text x="72.6" y="244.68" font-size="9.8" text-anchor="end" fill="#222" font-family='"Liberation Sans", sans-serif' >0.4</text>
<text x="72.6" y="274.04" font-size="9.8" text-anchor="end" fill="#222" font-family='"Liberation Sans", sans-serif' >0.2</text>
<text x="70.8" y="303.40" font-size="9.8" text-anchor="end" fill="#222" font-family='"Liberation Sans", sans-serif' >0</text>
<text x="239.3" y="159" font-size="10" text-anchor="middle" fill="#000" font-family='"Liberation Sans", sans-serif' >*</text>
<text x="308" y="231.5" font-size="10" text-anchor="middle" fill="#000" font-family='"Liberation Sans", sans-serif' >*</text>
<text x="33.8" y="237.4" font-size="13.75" text-anchor="middle" font-family='"Liberation Sans", sans-serif' transform="rotate(-90 33.8 237.4)">Static collagen adhesion</text>
<text x="50.1" y="235.3" font-size="13.8" text-anchor="middle" font-family='"Liberation Sans", sans-serif' transform="rotate(-90 50.1 235.3)">(OD405)</text>
<text x="110.3" y="318.2" font-size="11.3" text-anchor="middle" fill="#000" font-family='"Liberation Sans", sans-serif' >vector</text>
<text x="158.4" y="318.3" fill="#000" font-family='"Liberation Sans", sans-serif' ><tspan font-family='"Liberation Serif", serif' font-size="13.5">&#945;</tspan><tspan font-family='"Liberation Serif", serif' font-size="11.8">2</tspan><tspan font-size="11.5"> WT</tspan></text>
<text x="219.1" y="318.3" fill="#000" font-family='"Liberation Sans", sans-serif' ><tspan font-family='"Liberation Serif", serif' font-size="13.5">&#945;</tspan><tspan font-family='"Liberation Serif", serif' font-size="11.8">2</tspan><tspan font-size="11.5"> E318A</tspan></text>
<text x="285.2" y="318.3" fill="#000" font-family='"Liberation Sans", sans-serif' ><tspan font-family='"Liberation Serif", serif' font-size="13.5">&#945;</tspan><tspan font-family='"Liberation Serif", serif' font-size="11.8">2</tspan><tspan font-size="11.5"> GFFKR</tspan><tspan font-family='"Liberation Serif", serif' font-size="11.8">&#916;</tspan></text>
<rect x="362.8" y="206.5" width="20.5" height="11.7" fill="#000"/>
<rect x="363.5" y="229" width="19.1" height="10.8" fill="#fff" stroke="#000" stroke-width="1.4"/>
<text x="386" y="215.6" font-size="11.5" text-anchor="start" fill="#000" font-family='"Liberation Sans", sans-serif' >control</text>
<text x="387" y="237.8" font-size="11.2" text-anchor="start" fill="#000" font-family='"Liberation Sans", sans-serif' letter-spacing="0.3">EDTA</text>
<text x="0.5" y="346.2" font-size="14.2" text-anchor="start" fill="#000" font-family='"Liberation Sans", sans-serif' font-weight="bold">C</text>
<path d="M62.80,437.90 L66.00,437.50 L68.90,436.30 L70.10,426.80 L71.30,411.30 L72.50,395.80 L73.40,381.50 L74.30,370.70 L75.30,367.80 L76.10,369.50 L77.30,377.90 L78.50,389.80 L79.70,404.10 L81.20,417.30 L82.70,426.80 L83.90,432.80 L85.60,436.30 L87.40,437.50 L88.00,437.90 Z" fill="#c6c6c6" stroke="none"/>
<rect x="62.2" y="361.2" width="77.2" height="76.90000000000003" fill="none" stroke="#444" stroke-width="0.9"/>
<path d="M62.60,434.60 L62.78,435.49 L63.00,436.30 L63.75,436.55 L64.76,436.89 L65.50,436.90 L65.76,436.17 L66.17,435.27 L66.72,434.29 L66.80,433.92 L67.30,432.80 L67.48,432.22 L67.54,431.13 L67.74,430.50 L67.95,429.71 L68.13,428.58 L68.34,428.29 L68.21,427.27 L68.39,426.10 L68.59,425.86 L68.92,424.72 L68.96,423.89 L69.10,423.20 L69.07,422.30 L69.40,421.52 L69.32,420.40 L69.36,419.69 L69.70,418.88 L69.71,418.11 L69.69,417.37 L69.86,416.33 L69.88,415.49 L69.98,414.73 L70.20,413.70 L70.38,412.65 L70.35,412.27 L70.38,411.10 L70.58,410.16 L70.51,409.26 L70.61,408.57 L70.90,407.84 L70.88,407.07 L70.95,405.96 L71.12,404.90 L71.09,404.25 L71.21,403.25 L71.28,402.70 L71.40,401.80 L71.52,401.22 L71.54,400.04 L71.61,399.65 L71.54,398.66 L71.72,397.79 L71.78,396.94 L71.88,396.25 L71.83,395.39 L72.14,394.56 L71.93,393.75 L72.14,392.70 L72.08,391.93 L72.25,391.17 L72.33,390.90 L72.38,389.78 L72.45,389.00 L72.65,388.34 L72.60,387.40 L72.65,386.67 L72.87,385.79 L72.74,384.64 L72.94,384.07 L72.98,383.24 L73.02,382.50 L73.24,381.63 L73.28,380.56 L73.36,379.88 L73.44,378.63 L73.52,378.21 L73.39,377.49 L73.42,376.45 L73.60,375.50 L73.83,374.67 L73.75,373.54 L73.81,372.59 L73.88,371.77 L74.22,371.36 L74.27,370.15 L74.31,369.40 L74.40,368.40 L74.67,367.45 L74.78,366.63 L75.11,365.62 L75.30,364.80 L75.81,365.78 L76.50,366.60 L76.61,367.57 L76.50,368.40 L76.75,369.50 L76.88,369.89 L76.97,370.78 L77.30,371.90 L77.37,372.55 L77.51,373.66 L77.61,374.17 L77.64,375.10 L77.70,375.76 L77.87,376.60 L77.87,377.49 L77.96,378.29 L78.12,379.21 L78.10,380.08 L78.36,380.88 L78.30,381.50 L78.48,382.66 L78.62,382.97 L78.48,384.29 L78.68,384.85 L78.88,385.96 L78.86,386.55 L78.94,387.35 L79.30,388.58 L79.36,389.10 L79.30,390.41 L79.50,391.00 L79.57,391.88 L79.79,392.96 L79.68,393.23 L79.88,394.57 L80.04,395.21 L80.18,396.20 L79.99,396.78 L80.09,397.84 L80.42,398.60 L80.40,399.40 L80.55,400.17 L80.54,400.86 L80.87,401.95 L80.74,403.02 L81.00,403.80 L81.09,404.29 L81.19,405.26 L81.47,405.83 L81.51,406.99 L81.60,407.70 L81.88,408.63 L81.96,409.11 L81.95,410.29 L82.12,410.94 L82.25,411.52 L82.53,412.29 L82.57,413.11 L82.81,414.14 L82.80,414.90 L82.99,415.86 L83.13,416.39 L83.44,416.98 L83.60,418.30 L84.01,418.62 L84.20,419.60 L84.36,420.32 L84.56,421.47 L84.93,422.06 L85.11,422.71 L85.42,423.40 L85.70,424.40 L85.99,425.41 L86.41,426.28 L86.71,426.78 L86.88,427.88 L87.32,428.69 L87.38,429.48 L87.80,430.40 L88.17,431.40 L88.83,431.60 L89.18,432.45 L89.84,433.37 L90.20,434.00 L91.20,434.25 L91.99,434.75 L92.69,435.04 L93.77,435.15 L94.60,435.70 L95.28,436.02 L96.19,436.18 L96.97,436.35 L97.76,436.33 L98.51,436.98 L99.40,436.90 L100.25,437.17 L101.18,436.76 L102.03,436.78 L102.90,437.03 L103.57,437.32 L104.60,437.32 L105.30,437.30 L106.01,437.10 L107.00,437.17 L107.63,437.15 L108.53,437.37 L109.33,437.25 L109.97,437.02 L110.78,437.02 L111.86,437.46 L112.49,437.07 L113.30,437.01 L114.16,437.40 L114.94,437.50 L115.69,437.03 L116.48,437.28 L117.37,437.02 L118.20,437.29 L118.81,437.22 L119.65,437.16 L120.44,437.28 L121.36,437.05 L122.03,437.08 L123.01,437.07 L123.85,437.48 L124.60,437.35 L125.34,437.45 L126.23,437.31 L127.00,437.38 L127.78,437.39 L128.51,437.13 L129.35,437.41 L130.14,437.50 L130.86,437.40 L131.88,437.18 L132.62,437.11 L133.42,437.02 L134.31,437.27 L135.07,437.50 L135.84,437.20 L136.59,437.09 L137.39,437.23 L138.11,437.16 L139.00,437.30" fill="none" stroke="#000" stroke-width="2.25" stroke-linejoin="round" stroke-linecap="round"/>
<line x1="60.2" y1="438.10" x2="62.2" y2="438.10" stroke="#333" stroke-width="0.7"/>
<line x1="61.300000000000004" y1="435.20" x2="62.2" y2="435.20" stroke="#333" stroke-width="0.7"/>
<line x1="61.300000000000004" y1="432.30" x2="62.2" y2="432.30" stroke="#333" stroke-width="0.7"/>
<line x1="61.300000000000004" y1="429.40" x2="62.2" y2="429.40" stroke="#333" stroke-width="0.7"/>
<line x1="61.300000000000004" y1="426.50" x2="62.2" y2="426.50" stroke="#333" stroke-width="0.7"/>
<line x1="60.2" y1="423.60" x2="62.2" y2="423.60" stroke="#333" stroke-width="0.7"/>
<line x1="61.300000000000004" y1="420.70" x2="62.2" y2="420.70" stroke="#333" stroke-width="0.7"/>
<line x1="61.300000000000004" y1="417.80" x2="62.2" y2="417.80" stroke="#333" stroke-width="0.7"/>
<line x1="61.300000000000004" y1="414.90" x2="62.2" y2="414.90" stroke="#333" stroke-width="0.7"/>
<line x1="61.300000000000004" y1="412.00" x2="62.2" y2="412.00" stroke="#333" stroke-width="0.7"/>
<line x1="60.2" y1="409.10" x2="62.2" y2="409.10" stroke="#333" stroke-width="0.7"/>
<line x1="61.300000000000004" y1="406.20" x2="62.2" y2="406.20" stroke="#333" stroke-width="0.7"/>
<line x1="61.300000000000004" y1="403.30" x2="62.2" y2="403.30" stroke="#333" stroke-width="0.7"/>
<line x1="61.300000000000004" y1="400.40" x2="62.2" y2="400.40" stroke="#333" stroke-width="0.7"/>
<line x1="61.300000000000004" y1="397.50" x2="62.2" y2="397.50" stroke="#333" stroke-width="0.7"/>
<line x1="60.2" y1="394.60" x2="62.2" y2="394.60" stroke="#333" stroke-width="0.7"/>
<line x1="61.300000000000004" y1="391.70" x2="62.2" y2="391.70" stroke="#333" stroke-width="0.7"/>
<line x1="61.300000000000004" y1="388.80" x2="62.2" y2="388.80" stroke="#333" stroke-width="0.7"/>
<line x1="61.300000000000004" y1="385.90" x2="62.2" y2="385.90" stroke="#333" stroke-width="0.7"/>
<line x1="61.300000000000004" y1="383.00" x2="62.2" y2="383.00" stroke="#333" stroke-width="0.7"/>
<line x1="60.2" y1="380.10" x2="62.2" y2="380.10" stroke="#333" stroke-width="0.7"/>
<line x1="61.300000000000004" y1="377.20" x2="62.2" y2="377.20" stroke="#333" stroke-width="0.7"/>
<line x1="61.300000000000004" y1="374.30" x2="62.2" y2="374.30" stroke="#333" stroke-width="0.7"/>
<line x1="61.300000000000004" y1="371.40" x2="62.2" y2="371.40" stroke="#333" stroke-width="0.7"/>
<line x1="61.300000000000004" y1="368.50" x2="62.2" y2="368.50" stroke="#333" stroke-width="0.7"/>
<line x1="60.2" y1="365.60" x2="62.2" y2="365.60" stroke="#333" stroke-width="0.7"/>
<text x="58.900000000000006" y="439.29" font-size="3.145" text-anchor="end" fill="#333" font-family='"Liberation Sans", sans-serif' font-weight="bold" stroke="#333" stroke-width="0.12">0</text>
<text x="58.900000000000006" y="424.79" font-size="3.145" text-anchor="end" fill="#333" font-family='"Liberation Sans", sans-serif' font-weight="bold" stroke="#333" stroke-width="0.12">20</text>
<text x="58.900000000000006" y="410.29" font-size="3.145" text-anchor="end" fill="#333" font-family='"Liberation Sans", sans-serif' font-weight="bold" stroke="#333" stroke-width="0.12">40</text>
<text x="58.900000000000006" y="395.79" font-size="3.145" text-anchor="end" fill="#333" font-family='"Liberation Sans", sans-serif' font-weight="bold" stroke="#333" stroke-width="0.12">60</text>
<text x="58.900000000000006" y="381.29" font-size="3.145" text-anchor="end" fill="#333" font-family='"Liberation Sans", sans-serif' font-weight="bold" stroke="#333" stroke-width="0.12">80</text>
<text x="58.900000000000006" y="366.79" font-size="3.145" text-anchor="end" fill="#333" font-family='"Liberation Sans", sans-serif' font-weight="bold" stroke="#333" stroke-width="0.12">100</text>
<text x="52.6" y="399.65" font-size="2.98" text-anchor="middle" fill="#333" font-weight="bold" stroke="#333" stroke-width="0.12" font-family='"Liberation Sans", sans-serif' transform="rotate(-90 52.6 399.65)">% of Max</text>
<line x1="62.20" y1="438.1" x2="62.20" y2="439.90000000000003" stroke="#333" stroke-width="0.7"/>
<text x="61.44" y="446.10" font-size="3.145" text-anchor="middle" fill="#333" font-family='"Liberation Sans", sans-serif' font-weight="bold" stroke="#333" stroke-width="0.12">10</text>
<text x="63.14" y="444.20" font-size="2.38" text-anchor="start" fill="#333" font-family='"Liberation Sans", sans-serif' font-weight="bold" stroke="#333" stroke-width="0.12">0</text>
<line x1="81.50" y1="438.1" x2="81.50" y2="439.90000000000003" stroke="#333" stroke-width="0.7"/>
<text x="80.73" y="446.10" font-size="3.145" text-anchor="middle" fill="#333" font-family='"Liberation Sans", sans-serif' font-weight="bold" stroke="#333" stroke-width="0.12">10</text>
<text x="82.44" y="444.20" font-size="2.38" text-anchor="start" fill="#333" font-family='"Liberation Sans", sans-serif' font-weight="bold" stroke="#333" stroke-width="0.12">1</text>
<line x1="100.80" y1="438.1" x2="100.80" y2="439.90000000000003" stroke="#333" stroke-width="0.7"/>
<text x="100.04" y="446.10" font-size="3.145" text-anchor="middle" fill="#333" font-family='"Liberation Sans", sans-serif' font-weight="bold" stroke="#333" stroke-width="0.12">10</text>
<text x="101.74" y="444.20" font-size="2.38" text-anchor="start" fill="#333" font-family='"Liberation Sans", sans-serif' font-weight="bold" stroke="#333" stroke-width="0.12">2</text>
<line x1="120.10" y1="438.1" x2="120.10" y2="439.90000000000003" stroke="#333" stroke-width="0.7"/>
<text x="119.34" y="446.10" font-size="3.145" text-anchor="middle" fill="#333" font-family='"Liberation Sans", sans-serif' font-weight="bold" stroke="#333" stroke-width="0.12">10</text>
<text x="121.04" y="444.20" font-size="2.38" text-anchor="start" fill="#333" font-family='"Liberation Sans", sans-serif' font-weight="bold" stroke="#333" stroke-width="0.12">3</text>
<line x1="139.40" y1="438.1" x2="139.40" y2="439.90000000000003" stroke="#333" stroke-width="0.7"/>
<text x="138.64" y="446.10" font-size="3.145" text-anchor="middle" fill="#333" font-family='"Liberation Sans", sans-serif' font-weight="bold" stroke="#333" stroke-width="0.12">10</text>
<text x="140.34" y="444.20" font-size="2.38" text-anchor="start" fill="#333" font-family='"Liberation Sans", sans-serif' font-weight="bold" stroke="#333" stroke-width="0.12">4</text>
<text x="100.80" y="449.40" font-size="2.8049999999999997" text-anchor="middle" fill="#333" font-family='"Liberation Sans", sans-serif' font-weight="bold" stroke="#333" stroke-width="0.12">FL1-H</text>
<path d="M179.30,437.90 L181.00,434.00 L182.60,431.60 L183.80,419.60 L185.00,405.30 L186.10,388.60 L187.30,374.30 L188.50,366.00 L189.40,366.00 L190.30,374.30 L191.50,388.60 L192.70,405.30 L193.90,419.60 L195.10,430.40 L196.90,435.20 L198.70,437.50 L199.00,437.90 Z" fill="#c6c6c6" stroke="none"/>
<rect x="177.2" y="361.2" width="77.30000000000001" height="76.90000000000003" fill="none" stroke="#444" stroke-width="0.9"/>
<path d="M177.50,437.50 L178.33,437.47 L179.12,437.50 L179.97,437.50 L180.76,437.31 L181.66,437.50 L182.33,437.26 L183.20,437.50 L184.17,436.95 L184.81,437.02 L185.96,436.89 L186.70,436.30 L187.33,435.82 L187.75,434.94 L188.37,434.59 L189.10,434.00 L189.32,433.01 L189.69,432.12 L190.10,431.56 L190.34,430.81 L190.65,430.00 L190.90,429.20 L190.93,428.37 L191.25,427.90 L191.26,427.00 L191.22,425.89 L191.27,425.07 L191.47,424.56 L191.57,423.81 L191.80,423.07 L191.71,421.70 L191.89,421.45 L191.97,420.69 L192.10,419.60 L192.23,418.48 L192.21,418.04 L192.32,416.76 L192.54,416.42 L192.48,415.05 L192.51,414.18 L192.64,413.73 L192.81,412.73 L192.99,411.64 L193.05,410.74 L193.10,410.10 L193.13,409.02 L193.15,408.23 L193.36,407.83 L193.44,406.58 L193.35,405.68 L193.49,405.21 L193.65,403.91 L193.48,403.13 L193.56,402.61 L193.54,401.48 L193.75,400.50 L193.82,399.75 L193.83,398.97 L193.90,398.20 L193.95,397.63 L194.12,396.56 L193.96,395.49 L194.21,395.08 L194.07,393.84 L194.35,393.30 L194.41,392.13 L194.35,391.70 L194.26,390.58 L194.57,389.51 L194.54,388.79 L194.63,387.96 L194.53,387.32 L194.71,386.23 L194.61,385.32 L194.85,384.78 L194.80,383.90 L194.80,383.14 L194.85,382.49 L194.94,381.12 L194.95,380.54 L195.11,379.55 L195.10,378.96 L195.40,378.00 L195.40,377.54 L195.45,376.54 L195.35,375.38 L195.68,374.47 L195.77,374.05 L195.70,373.10 L195.84,372.00 L195.97,371.46 L196.15,370.55 L196.11,369.60 L196.32,369.18 L196.36,368.37 L196.52,367.59 L196.50,366.60 L196.91,365.61 L197.20,364.80 L197.54,365.94 L197.74,366.55 L197.90,367.72 L198.10,368.40 L198.16,369.36 L198.33,370.22 L198.44,370.81 L198.61,372.25 L198.57,372.97 L198.72,373.87 L198.90,374.58 L198.90,375.50 L199.08,376.09 L199.13,376.90 L199.12,378.01 L199.30,378.98 L199.53,379.77 L199.35,380.39 L199.65,381.26 L199.60,382.04 L199.85,383.30 L199.90,383.90 L200.13,384.73 L200.17,385.52 L200.21,386.31 L200.46,387.54 L200.41,388.45 L200.50,389.13 L200.66,389.73 L200.88,391.01 L201.02,391.80 L200.89,392.40 L201.10,393.40 L201.14,394.21 L201.29,394.91 L201.43,396.00 L201.64,396.65 L201.64,397.89 L201.62,398.18 L201.73,399.50 L202.00,400.25 L202.18,400.85 L202.20,401.80 L202.22,402.30 L202.32,403.35 L202.52,404.36 L202.60,404.74 L202.85,405.82 L203.05,406.61 L203.27,407.51 L203.18,408.22 L203.40,408.90 L203.44,409.69 L203.66,410.21 L203.70,411.43 L203.89,411.96 L204.07,413.02 L204.28,413.77 L204.42,414.44 L204.34,415.54 L204.60,416.10 L204.92,417.20 L205.10,417.56 L205.49,418.70 L205.65,419.40 L205.97,420.54 L206.13,421.42 L206.40,422.00 L206.58,422.89 L207.03,423.73 L207.27,424.48 L207.59,425.03 L207.88,426.29 L208.00,426.80 L208.32,427.62 L208.59,428.29 L208.65,429.41 L208.92,429.75 L209.25,430.83 L209.40,431.60 L209.54,432.41 L209.83,433.43 L210.14,434.24 L210.61,434.78 L210.80,435.70 L211.43,436.02 L212.33,436.78 L213.00,437.30 L213.86,437.50 L214.61,437.50 L215.30,437.50 L216.24,437.15 L217.11,437.19 L217.85,437.41 L218.67,437.50 L219.43,437.22 L220.39,437.50 L221.18,437.16 L221.89,437.50 L222.60,437.39 L223.50,437.37 L224.17,437.42 L225.12,437.50 L226.02,437.30 L226.73,437.40 L227.41,437.49 L228.32,437.40 L229.28,437.50 L229.96,437.24 L230.75,437.16 L231.70,437.50 L232.33,437.38 L233.23,437.21 L233.89,437.50 L234.67,437.50 L235.54,437.23 L236.37,437.50 L237.27,437.33 L238.11,437.18 L238.85,437.20 L239.57,437.28 L240.45,437.45 L241.25,437.36 L241.98,437.46 L242.93,437.27 L243.71,437.50 L244.54,437.50 L245.23,437.50 L246.21,437.50 L246.87,437.50 L247.86,437.36 L248.69,437.30 L249.24,437.50 L250.23,437.32 L250.85,437.34 L251.75,437.50 L252.47,437.50 L253.45,437.44 L254.20,437.50" fill="none" stroke="#000" stroke-width="2.25" stroke-linejoin="round" stroke-linecap="round"/>
<line x1="175.2" y1="438.10" x2="177.2" y2="438.10" stroke="#333" stroke-width="0.7"/>
<line x1="176.29999999999998" y1="435.20" x2="177.2" y2="435.20" stroke="#333" stroke-width="0.7"/>
<line x1="176.29999999999998" y1="432.30" x2="177.2" y2="432.30" stroke="#333" stroke-width="0.7"/>
<line x1="176.29999999999998" y1="429.40" x2="177.2" y2="429.40" stroke="#333" stroke-width="0.7"/>
<line x1="176.29999999999998" y1="426.50" x2="177.2" y2="426.50" stroke="#333" stroke-width="0.7"/>
<line x1="175.2" y1="423.60" x2="177.2" y2="423.60" stroke="#333" stroke-width="0.7"/>
<line x1="176.29999999999998" y1="420.70" x2="177.2" y2="420.70" stroke="#333" stroke-width="0.7"/>
<line x1="176.29999999999998" y1="417.80" x2="177.2" y2="417.80" stroke="#333" stroke-width="0.7"/>
<line x1="176.29999999999998" y1="414.90" x2="177.2" y2="414.90" stroke="#333" stroke-width="0.7"/>
<line x1="176.29999999999998" y1="412.00" x2="177.2" y2="412.00" stroke="#333" stroke-width="0.7"/>
<line x1="175.2" y1="409.10" x2="177.2" y2="409.10" stroke="#333" stroke-width="0.7"/>
<line x1="176.29999999999998" y1="406.20" x2="177.2" y2="406.20" stroke="#333" stroke-width="0.7"/>
<line x1="176.29999999999998" y1="403.30" x2="177.2" y2="403.30" stroke="#333" stroke-width="0.7"/>
<line x1="176.29999999999998" y1="400.40" x2="177.2" y2="400.40" stroke="#333" stroke-width="0.7"/>
<line x1="176.29999999999998" y1="397.50" x2="177.2" y2="397.50" stroke="#333" stroke-width="0.7"/>
<line x1="175.2" y1="394.60" x2="177.2" y2="394.60" stroke="#333" stroke-width="0.7"/>
<line x1="176.29999999999998" y1="391.70" x2="177.2" y2="391.70" stroke="#333" stroke-width="0.7"/>
<line x1="176.29999999999998" y1="388.80" x2="177.2" y2="388.80" stroke="#333" stroke-width="0.7"/>
<line x1="176.29999999999998" y1="385.90" x2="177.2" y2="385.90" stroke="#333" stroke-width="0.7"/>
<line x1="176.29999999999998" y1="383.00" x2="177.2" y2="383.00" stroke="#333" stroke-width="0.7"/>
<line x1="175.2" y1="380.10" x2="177.2" y2="380.10" stroke="#333" stroke-width="0.7"/>
<line x1="176.29999999999998" y1="377.20" x2="177.2" y2="377.20" stroke="#333" stroke-width="0.7"/>
<line x1="176.29999999999998" y1="374.30" x2="177.2" y2="374.30" stroke="#333" stroke-width="0.7"/>
<line x1="176.29999999999998" y1="371.40" x2="177.2" y2="371.40" stroke="#333" stroke-width="0.7"/>
<line x1="176.29999999999998" y1="368.50" x2="177.2" y2="368.50" stroke="#333" stroke-width="0.7"/>
<line x1="175.2" y1="365.60" x2="177.2" y2="365.60" stroke="#333" stroke-width="0.7"/>
<text x="173.89999999999998" y="439.29" font-size="3.145" text-anchor="end" fill="#333" font-family='"Liberation Sans", sans-serif' font-weight="bold" stroke="#333" stroke-width="0.12">0</text>
<text x="173.89999999999998" y="424.79" font-size="3.145" text-anchor="end" fill="#333" font-family='"Liberation Sans", sans-serif' font-weight="bold" stroke="#333" stroke-width="0.12">20</text>
<text x="173.89999999999998" y="410.29" font-size="3.145" text-anchor="end" fill="#333" font-family='"Liberation Sans", sans-serif' font-weight="bold" stroke="#333" stroke-width="0.12">40</text>
<text x="173.89999999999998" y="395.79" font-size="3.145" text-anchor="end" fill="#333" font-family='"Liberation Sans", sans-serif' font-weight="bold" stroke="#333" stroke-width="0.12">60</text>
<text x="173.89999999999998" y="381.29" font-size="3.145" text-anchor="end" fill="#333" font-family='"Liberation Sans", sans-serif' font-weight="bold" stroke="#333" stroke-width="0.12">80</text>
<text x="173.89999999999998" y="366.79" font-size="3.145" text-anchor="end" fill="#333" font-family='"Liberation Sans", sans-serif' font-weight="bold" stroke="#333" stroke-width="0.12">100</text>
<text x="167.6" y="399.65" font-size="2.98" text-anchor="middle" fill="#333" font-weight="bold" stroke="#333" stroke-width="0.12" font-family='"Liberation Sans", sans-serif' transform="rotate(-90 167.6 399.65)">% of Max</text>
<line x1="177.20" y1="438.1" x2="177.20" y2="439.90000000000003" stroke="#333" stroke-width="0.7"/>
<text x="176.44" y="446.10" font-size="3.145" text-anchor="middle" fill="#333" font-family='"Liberation Sans", sans-serif' font-weight="bold" stroke="#333" stroke-width="0.12">10</text>
<text x="178.13" y="444.20" font-size="2.38" text-anchor="start" fill="#333" font-family='"Liberation Sans", sans-serif' font-weight="bold" stroke="#333" stroke-width="0.12">0</text>
<line x1="196.52" y1="438.1" x2="196.52" y2="439.90000000000003" stroke="#333" stroke-width="0.7"/>
<text x="195.76" y="446.10" font-size="3.145" text-anchor="middle" fill="#333" font-family='"Liberation Sans", sans-serif' font-weight="bold" stroke="#333" stroke-width="0.12">10</text>
<text x="197.46" y="444.20" font-size="2.38" text-anchor="start" fill="#333" font-family='"Liberation Sans", sans-serif' font-weight="bold" stroke="#333" stroke-width="0.12">1</text>
<line x1="215.85" y1="438.1" x2="215.85" y2="439.90000000000003" stroke="#333" stroke-width="0.7"/>
<text x="215.09" y="446.10" font-size="3.145" text-anchor="middle" fill="#333" font-family='"Liberation Sans", sans-serif' font-weight="bold" stroke="#333" stroke-width="0.12">10</text>
<text x="216.78" y="444.20" font-size="2.38" text-anchor="start" fill="#333" font-family='"Liberation Sans", sans-serif' font-weight="bold" stroke="#333" stroke-width="0.12">2</text>
<line x1="235.18" y1="438.1" x2="235.18" y2="439.90000000000003" stroke="#333" stroke-width="0.7"/>
<text x="234.41" y="446.10" font-size="3.145" text-anchor="middle" fill="#333" font-family='"Liberation Sans", sans-serif' font-weight="bold" stroke="#333" stroke-width="0.12">10</text>
<text x="236.11" y="444.20" font-size="2.38" text-anchor="start" fill="#333" font-family='"Liberation Sans", sans-serif' font-weight="bold" stroke="#333" stroke-width="0.12">3</text>
<line x1="254.50" y1="438.1" x2="254.50" y2="439.90000000000003" stroke="#333" stroke-width="0.7"/>
<text x="253.74" y="446.10" font-size="3.145" text-anchor="middle" fill="#333" font-family='"Liberation Sans", sans-serif' font-weight="bold" stroke="#333" stroke-width="0.12">10</text>
<text x="255.44" y="444.20" font-size="2.38" text-anchor="start" fill="#333" font-family='"Liberation Sans", sans-serif' font-weight="bold" stroke="#333" stroke-width="0.12">4</text>
<text x="215.85" y="449.40" font-size="2.8049999999999997" text-anchor="middle" fill="#333" font-family='"Liberation Sans", sans-serif' font-weight="bold" stroke="#333" stroke-width="0.12">FL1-H</text>
<path d="M298.00,437.90 L299.20,431.60 L300.40,419.60 L301.50,401.80 L302.70,383.90 L303.90,370.70 L304.90,366.00 L305.70,367.20 L306.60,374.30 L307.50,387.40 L308.70,404.10 L309.90,417.30 L311.10,428.00 L312.50,434.00 L314.10,436.90 L314.50,437.90 Z" fill="#c6c6c6" stroke="none"/>
<rect x="293.3" y="361.2" width="77.5" height="76.90000000000003" fill="none" stroke="#444" stroke-width="0.9"/>
<path d="M293.50,436.90 L294.37,436.73 L295.04,436.70 L295.94,436.16 L296.80,436.30 L297.64,435.59 L298.33,435.26 L299.10,434.61 L299.80,434.00 L300.07,432.99 L300.49,432.20 L300.75,431.34 L300.99,430.54 L301.19,429.90 L301.50,429.20 L301.52,428.61 L301.96,427.34 L301.88,426.81 L302.30,426.29 L302.31,424.97 L302.44,424.18 L302.57,423.67 L302.70,422.92 L303.00,422.00 L303.32,420.93 L303.43,420.19 L303.67,419.43 L303.90,418.50 L303.84,417.63 L304.21,417.04 L304.20,416.39 L304.19,415.21 L304.37,414.61 L304.32,413.47 L304.49,412.82 L304.57,412.29 L304.75,411.02 L304.74,410.46 L304.79,409.53 L304.90,408.90 L305.06,408.01 L305.06,407.02 L305.18,406.25 L305.13,405.35 L305.32,404.71 L305.34,403.72 L305.36,402.99 L305.64,402.34 L305.71,401.52 L305.78,400.51 L305.63,399.81 L305.92,399.22 L305.81,397.96 L305.90,397.60 L305.88,396.46 L306.10,395.80 L306.22,394.67 L306.42,394.39 L306.21,393.25 L306.53,392.29 L306.57,391.75 L306.62,390.54 L306.74,389.84 L306.92,388.86 L306.77,388.39 L307.07,387.17 L307.18,386.32 L307.19,385.61 L307.13,384.87 L307.30,383.90 L307.32,382.94 L307.54,382.35 L307.69,381.19 L307.59,380.53 L307.91,379.71 L307.89,378.95 L308.08,378.34 L308.01,377.41 L308.25,376.48 L308.25,375.77 L308.28,374.67 L308.43,374.07 L308.50,373.10 L308.70,372.02 L308.86,371.76 L309.02,370.97 L309.12,369.97 L309.05,369.08 L309.24,368.28 L309.49,367.84 L309.60,366.81 L309.70,366.00 L311.10,365.40 L311.31,366.06 L311.47,367.29 L311.67,367.90 L311.96,368.83 L311.98,369.60 L312.30,370.70 L312.43,371.39 L312.50,372.46 L312.48,373.36 L312.60,373.62 L312.58,374.67 L312.70,375.60 L312.77,376.14 L312.75,377.37 L312.91,377.82 L313.03,378.52 L313.25,379.33 L313.20,380.30 L313.33,381.12 L313.34,381.73 L313.53,382.82 L313.49,383.42 L313.67,384.61 L313.66,385.05 L313.69,386.19 L313.85,386.95 L313.89,387.95 L313.91,388.60 L313.97,389.45 L314.06,390.12 L314.07,390.83 L314.26,391.60 L314.19,392.43 L314.40,393.40 L314.41,394.40 L314.58,395.30 L314.74,395.79 L314.65,396.91 L314.82,397.27 L314.88,398.52 L314.90,399.30 L314.93,400.02 L315.04,400.71 L315.12,401.52 L315.13,402.59 L315.23,403.05 L315.38,404.33 L315.55,404.59 L315.62,405.91 L315.60,406.50 L315.76,407.25 L315.68,408.04 L315.98,409.21 L316.08,409.65 L316.00,410.37 L316.06,411.19 L316.31,412.11 L316.25,413.02 L316.37,413.79 L316.56,415.02 L316.67,415.40 L316.69,416.49 L316.80,417.30 L317.25,418.08 L317.60,419.01 L318.00,419.60 L318.12,420.48 L318.23,421.28 L318.40,421.95 L318.47,422.93 L318.66,423.85 L318.86,424.61 L318.99,425.47 L319.04,425.96 L319.20,426.80 L319.48,427.72 L319.49,428.72 L319.68,429.11 L319.87,429.98 L320.12,430.79 L320.46,431.71 L320.60,432.80 L321.19,433.59 L321.57,434.53 L321.81,435.24 L322.40,435.70 L323.28,435.84 L323.81,436.29 L324.63,436.75 L325.40,436.90 L326.15,436.93 L326.89,436.75 L327.95,436.96 L328.70,437.19 L329.39,437.16 L330.36,436.78 L331.09,436.96 L331.76,436.61 L332.72,436.89 L333.53,437.10 L334.22,436.80 L335.21,437.12 L335.78,436.89 L336.69,436.97 L337.40,436.82 L338.32,436.83 L339.10,436.68 L339.97,437.17 L340.68,436.75 L341.58,436.66 L342.21,436.98 L343.15,436.93 L343.89,436.95 L344.69,436.79 L345.48,437.20 L346.33,436.90 L347.11,436.70 L347.90,436.72 L348.71,436.82 L349.50,437.16 L350.41,436.80 L351.18,436.84 L351.85,436.99 L352.66,437.00 L353.68,436.75 L354.44,437.19 L355.18,436.70 L356.11,436.77 L356.72,436.74 L357.66,436.98 L358.41,436.95 L359.21,437.18 L360.00,437.16 L360.79,436.88 L361.72,437.03 L362.45,436.74 L363.25,437.04 L364.09,437.00 L364.82,437.03 L365.53,436.78 L366.56,437.13 L367.42,436.83 L367.98,437.14 L368.87,437.10 L369.62,436.79 L370.50,436.90" fill="none" stroke="#000" stroke-width="2.25" stroke-linejoin="round" stroke-linecap="round"/>
<line x1="291.3" y1="438.10" x2="293.3" y2="438.10" stroke="#333" stroke-width="0.7"/>
<line x1="292.40000000000003" y1="435.20" x2="293.3" y2="435.20" stroke="#333" stroke-width="0.7"/>
<line x1="292.40000000000003" y1="432.30" x2="293.3" y2="432.30" stroke="#333" stroke-width="0.7"/>
<line x1="292.40000000000003" y1="429.40" x2="293.3" y2="429.40" stroke="#333" stroke-width="0.7"/>
<line x1="292.40000000000003" y1="426.50" x2="293.3" y2="426.50" stroke="#333" stroke-width="0.7"/>
<line x1="291.3" y1="423.60" x2="293.3" y2="423.60" stroke="#333" stroke-width="0.7"/>
<line x1="292.40000000000003" y1="420.70" x2="293.3" y2="420.70" stroke="#333" stroke-width="0.7"/>
<line x1="292.40000000000003" y1="417.80" x2="293.3" y2="417.80" stroke="#333" stroke-width="0.7"/>
<line x1="292.40000000000003" y1="414.90" x2="293.3" y2="414.90" stroke="#333" stroke-width="0.7"/>
<line x1="292.40000000000003" y1="412.00" x2="293.3" y2="412.00" stroke="#333" stroke-width="0.7"/>
<line x1="291.3" y1="409.10" x2="293.3" y2="409.10" stroke="#333" stroke-width="0.7"/>
<line x1="292.40000000000003" y1="406.20" x2="293.3" y2="406.20" stroke="#333" stroke-width="0.7"/>
<line x1="292.40000000000003" y1="403.30" x2="293.3" y2="403.30" stroke="#333" stroke-width="0.7"/>
<line x1="292.40000000000003" y1="400.40" x2="293.3" y2="400.40" stroke="#333" stroke-width="0.7"/>
<line x1="292.40000000000003" y1="397.50" x2="293.3" y2="397.50" stroke="#333" stroke-width="0.7"/>
<line x1="291.3" y1="394.60" x2="293.3" y2="394.60" stroke="#333" stroke-width="0.7"/>
<line x1="292.40000000000003" y1="391.70" x2="293.3" y2="391.70" stroke="#333" stroke-width="0.7"/>
<line x1="292.40000000000003" y1="388.80" x2="293.3" y2="388.80" stroke="#333" stroke-width="0.7"/>
<line x1="292.40000000000003" y1="385.90" x2="293.3" y2="385.90" stroke="#333" stroke-width="0.7"/>
<line x1="292.40000000000003" y1="383.00" x2="293.3" y2="383.00" stroke="#333" stroke-width="0.7"/>
<line x1="291.3" y1="380.10" x2="293.3" y2="380.10" stroke="#333" stroke-width="0.7"/>
<line x1="292.40000000000003" y1="377.20" x2="293.3" y2="377.20" stroke="#333" stroke-width="0.7"/>
<line x1="292.40000000000003" y1="374.30" x2="293.3" y2="374.30" stroke="#333" stroke-width="0.7"/>
<line x1="292.40000000000003" y1="371.40" x2="293.3" y2="371.40" stroke="#333" stroke-width="0.7"/>
<line x1="292.40000000000003" y1="368.50" x2="293.3" y2="368.50" stroke="#333" stroke-width="0.7"/>
<line x1="291.3" y1="365.60" x2="293.3" y2="365.60" stroke="#333" stroke-width="0.7"/>
<text x="290.0" y="439.29" font-size="3.145" text-anchor="end" fill="#333" font-family='"Liberation Sans", sans-serif' font-weight="bold" stroke="#333" stroke-width="0.12">0</text>
<text x="290.0" y="424.79" font-size="3.145" text-anchor="end" fill="#333" font-family='"Liberation Sans", sans-serif' font-weight="bold" stroke="#333" stroke-width="0.12">20</text>
<text x="290.0" y="410.29" font-size="3.145" text-anchor="end" fill="#333" font-family='"Liberation Sans", sans-serif' font-weight="bold" stroke="#333" stroke-width="0.12">40</text>
<text x="290.0" y="395.79" font-size="3.145" text-anchor="end" fill="#333" font-family='"Liberation Sans", sans-serif' font-weight="bold" stroke="#333" stroke-width="0.12">60</text>
<text x="290.0" y="381.29" font-size="3.145" text-anchor="end" fill="#333" font-family='"Liberation Sans", sans-serif' font-weight="bold" stroke="#333" stroke-width="0.12">80</text>
<text x="290.0" y="366.79" font-size="3.145" text-anchor="end" fill="#333" font-family='"Liberation Sans", sans-serif' font-weight="bold" stroke="#333" stroke-width="0.12">100</text>
<text x="283.7" y="399.65" font-size="2.98" text-anchor="middle" fill="#333" font-weight="bold" stroke="#333" stroke-width="0.12" font-family='"Liberation Sans", sans-serif' transform="rotate(-90 283.7 399.65)">% of Max</text>
<line x1="293.30" y1="438.1" x2="293.30" y2="439.90000000000003" stroke="#333" stroke-width="0.7"/>
<text x="292.54" y="446.10" font-size="3.145" text-anchor="middle" fill="#333" font-family='"Liberation Sans", sans-serif' font-weight="bold" stroke="#333" stroke-width="0.12">10</text>
<text x="294.24" y="444.20" font-size="2.38" text-anchor="start" fill="#333" font-family='"Liberation Sans", sans-serif' font-weight="bold" stroke="#333" stroke-width="0.12">0</text>
<line x1="312.68" y1="438.1" x2="312.68" y2="439.90000000000003" stroke="#333" stroke-width="0.7"/>
<text x="311.91" y="446.10" font-size="3.145" text-anchor="middle" fill="#333" font-family='"Liberation Sans", sans-serif' font-weight="bold" stroke="#333" stroke-width="0.12">10</text>
<text x="313.61" y="444.20" font-size="2.38" text-anchor="start" fill="#333" font-family='"Liberation Sans", sans-serif' font-weight="bold" stroke="#333" stroke-width="0.12">1</text>
<line x1="332.05" y1="438.1" x2="332.05" y2="439.90000000000003" stroke="#333" stroke-width="0.7"/>
<text x="331.29" y="446.10" font-size="3.145" text-anchor="middle" fill="#333" font-family='"Liberation Sans", sans-serif' font-weight="bold" stroke="#333" stroke-width="0.12">10</text>
<text x="332.99" y="444.20" font-size="2.38" text-anchor="start" fill="#333" font-family='"Liberation Sans", sans-serif' font-weight="bold" stroke="#333" stroke-width="0.12">2</text>
<line x1="351.43" y1="438.1" x2="351.43" y2="439.90000000000003" stroke="#333" stroke-width="0.7"/>
<text x="350.66" y="446.10" font-size="3.145" text-anchor="middle" fill="#333" font-family='"Liberation Sans", sans-serif' font-weight="bold" stroke="#333" stroke-width="0.12">10</text>
<text x="352.36" y="444.20" font-size="2.38" text-anchor="start" fill="#333" font-family='"Liberation Sans", sans-serif' font-weight="bold" stroke="#333" stroke-width="0.12">3</text>
<line x1="370.80" y1="438.1" x2="370.80" y2="439.90000000000003" stroke="#333" stroke-width="0.7"/>
<text x="370.04" y="446.10" font-size="3.145" text-anchor="middle" fill="#333" font-family='"Liberation Sans", sans-serif' font-weight="bold" stroke="#333" stroke-width="0.12">10</text>
<text x="371.74" y="444.20" font-size="2.38" text-anchor="start" fill="#333" font-family='"Liberation Sans", sans-serif' font-weight="bold" stroke="#333" stroke-width="0.12">4</text>
<text x="332.05" y="449.40" font-size="2.8049999999999997" text-anchor="middle" fill="#333" font-family='"Liberation Sans", sans-serif' font-weight="bold" stroke="#333" stroke-width="0.12">FL1-H</text>
<text x="80.5" y="358.7" fill="#000" font-family='"Liberation Sans", sans-serif' ><tspan font-family='"Liberation Serif", serif' font-size="16">&#945;</tspan><tspan font-family='"Liberation Serif", serif' font-size="14">2</tspan><tspan font-size="12.8"> WT</tspan></text>
<text x="182.9" y="358.7" fill="#000" font-family='"Liberation Sans", sans-serif' ><tspan font-family='"Liberation Serif", serif' font-size="16">&#945;</tspan><tspan font-family='"Liberation Serif", serif' font-size="14">2</tspan><tspan font-size="12.8"> E318A</tspan></text>
<text x="292.9" y="358.7" fill="#000" font-family='"Liberation Sans", sans-serif' ><tspan font-family='"Liberation Serif", serif' font-size="16">&#945;</tspan><tspan font-family='"Liberation Serif", serif' font-size="14">2</tspan><tspan font-size="12.8"> GFFKR</tspan><tspan font-family='"Liberation Serif", serif' font-size="14">&#916;</tspan></text>
<line x1="43.3" y1="362" x2="43.3" y2="453.3" stroke="#000" stroke-width="1.6"/>
<path d="M43.3,355.2 L38.8,363.3 L43.3,361.3 L47.8,363.3 Z" fill="#000"/>
<text x="34.1" y="406.9" font-size="13.6" text-anchor="middle" font-family='"Liberation Sans", sans-serif' transform="rotate(-90 34.1 406.9)">Cell number</text>
<line x1="58" y1="455.8" x2="370" y2="455.8" stroke="#000" stroke-width="1.8"/>
<path d="M377,455.9 L368.3,451.4 L370.2,455.9 L368.3,460.4 Z" fill="#000"/>
<text x="141.4" y="478.9" font-size="13.6" text-anchor="start" fill="#000" font-family='"Liberation Sans", sans-serif' letter-spacing="0.08">Bound FITC-collagen</text>
<rect x="392" y="351.1" width="15.6" height="11.4" fill="#b3b3b3"/>
<text x="411.9" y="359.6" font-size="13.2" text-anchor="start" fill="#000" font-family='"Liberation Sans", sans-serif' letter-spacing="0.19">vector-expressing</text>
<text x="411.9" y="376.5" font-size="13.2" text-anchor="start" fill="#000" font-family='"Liberation Sans", sans-serif' letter-spacing="0.18">RBL-2H3 cells</text>
<line x1="391.5" y1="415.7" x2="411.9" y2="415.7" stroke="#000" stroke-width="2.2"/>
<text x="411.9" y="417.4" fill="#000" font-family='"Liberation Sans", sans-serif' letter-spacing="0.28"><tspan font-family='"Liberation Serif", serif' font-size="14.5">&#945;</tspan><tspan font-family='"Liberation Sans", sans-serif' font-size="13.2">2</tspan><tspan font-size="13.2">-expressing</tspan></text>
<text x="411.9" y="433.6" font-size="13.2" text-anchor="start" fill="#000" font-family='"Liberation Sans", sans-serif' letter-spacing="0.18">RBL-2H3 cells</text>
<text x="1.6" y="505.2" font-size="14.2" text-anchor="start" fill="#000" font-family='"Liberation Sans", sans-serif' font-weight="bold">D</text>
<line x1="140.10000000000002" y1="633.7" x2="140.10000000000002" y2="631.6" stroke="#000" stroke-width="1.5"/>
<line x1="135.40000000000003" y1="631.6" x2="144.8" y2="631.6" stroke="#000" stroke-width="1.5"/>
<rect x="121.4" y="633.7" width="37.400000000000006" height="14.799999999999955" fill="#000"/>
<line x1="229.9" y1="563.9" x2="229.9" y2="544.6" stroke="#000" stroke-width="1.5"/>
<line x1="225.20000000000002" y1="544.6" x2="234.6" y2="544.6" stroke="#000" stroke-width="1.5"/>
<rect x="211.3" y="563.9" width="37.19999999999999" height="84.60000000000002" fill="#000"/>
<line x1="319.79999999999995" y1="573.0" x2="319.79999999999995" y2="557.8" stroke="#000" stroke-width="1.5"/>
<line x1="315.09999999999997" y1="557.8" x2="324.49999999999994" y2="557.8" stroke="#000" stroke-width="1.5"/>
<rect x="301.2" y="573.0" width="37.19999999999999" height="75.5" fill="#000"/>
<line x1="96.1" y1="519.8" x2="96.1" y2="653.5" stroke="#000" stroke-width="1.5"/>
<line x1="96.1" y1="648.5" x2="365.8" y2="648.5" stroke="#000" stroke-width="1.5"/>
<line x1="186" y1="648.5" x2="186" y2="653.5" stroke="#000" stroke-width="1.5"/>
<line x1="275.6" y1="648.5" x2="275.6" y2="653.5" stroke="#000" stroke-width="1.5"/>
<line x1="365.8" y1="648.5" x2="365.8" y2="653.5" stroke="#000" stroke-width="1.5"/>
<line x1="91" y1="648.50" x2="96.1" y2="648.50" stroke="#000" stroke-width="1.5"/>
<text x="84.6" y="652.70" font-size="11.5" text-anchor="end" fill="#000" font-family='"Liberation Sans", sans-serif' >0</text>
<line x1="91" y1="616.65" x2="96.1" y2="616.65" stroke="#000" stroke-width="1.5"/>
<text x="86.2" y="620.85" font-size="11.5" text-anchor="end" fill="#000" font-family='"Liberation Sans", sans-serif' >0.01</text>
<line x1="91" y1="584.80" x2="96.1" y2="584.80" stroke="#000" stroke-width="1.5"/>
<text x="86.2" y="589.00" font-size="11.5" text-anchor="end" fill="#000" font-family='"Liberation Sans", sans-serif' >0.02</text>
<line x1="91" y1="552.95" x2="96.1" y2="552.95" stroke="#000" stroke-width="1.5"/>
<text x="86.2" y="557.15" font-size="11.5" text-anchor="end" fill="#000" font-family='"Liberation Sans", sans-serif' >0.03</text>
<line x1="91" y1="521.10" x2="96.1" y2="521.10" stroke="#000" stroke-width="1.5"/>
<text x="86.2" y="525.30" font-size="11.5" text-anchor="end" fill="#000" font-family='"Liberation Sans", sans-serif' >0.04</text>
<text x="230.2" y="536.2" font-size="12" text-anchor="middle" fill="#000" font-family='"Liberation Sans", sans-serif' >*</text>
<text x="319.8" y="549.6" font-size="12" text-anchor="middle" fill="#000" font-family='"Liberation Sans", sans-serif' >*</text>
<text x="49.3" y="585.3" font-size="13.7" text-anchor="middle" font-family='"Liberation Sans", sans-serif' transform="rotate(-90 49.3 585.3)">soluble collagen binding</text>
<text x="109.6" y="668.4" fill="#000" font-family='"Liberation Sans", sans-serif' ><tspan font-family='"Liberation Serif", serif' font-size="16.5">&#945;</tspan><tspan font-family='"Liberation Serif", serif' font-size="14.5">2</tspan><tspan font-size="13.2"> WT</tspan></text>
<text x="193.4" y="668.4" fill="#000" font-family='"Liberation Sans", sans-serif' ><tspan font-family='"Liberation Serif", serif' font-size="16.5">&#945;</tspan><tspan font-family='"Liberation Serif", serif' font-size="14.5">2</tspan><tspan font-size="13.2"> E318A</tspan></text>
<text x="291.4" y="668.4" fill="#000" font-family='"Liberation Sans", sans-serif' ><tspan font-family='"Liberation Serif", serif' font-size="16.5">&#945;</tspan><tspan font-family='"Liberation Serif", serif' font-size="14.5">2</tspan><tspan font-size="13.2"> GFFKR</tspan><tspan font-family='"Liberation Serif", serif' font-size="13.5">&#916;</tspan></text>
</svg></div>
</body></html>
